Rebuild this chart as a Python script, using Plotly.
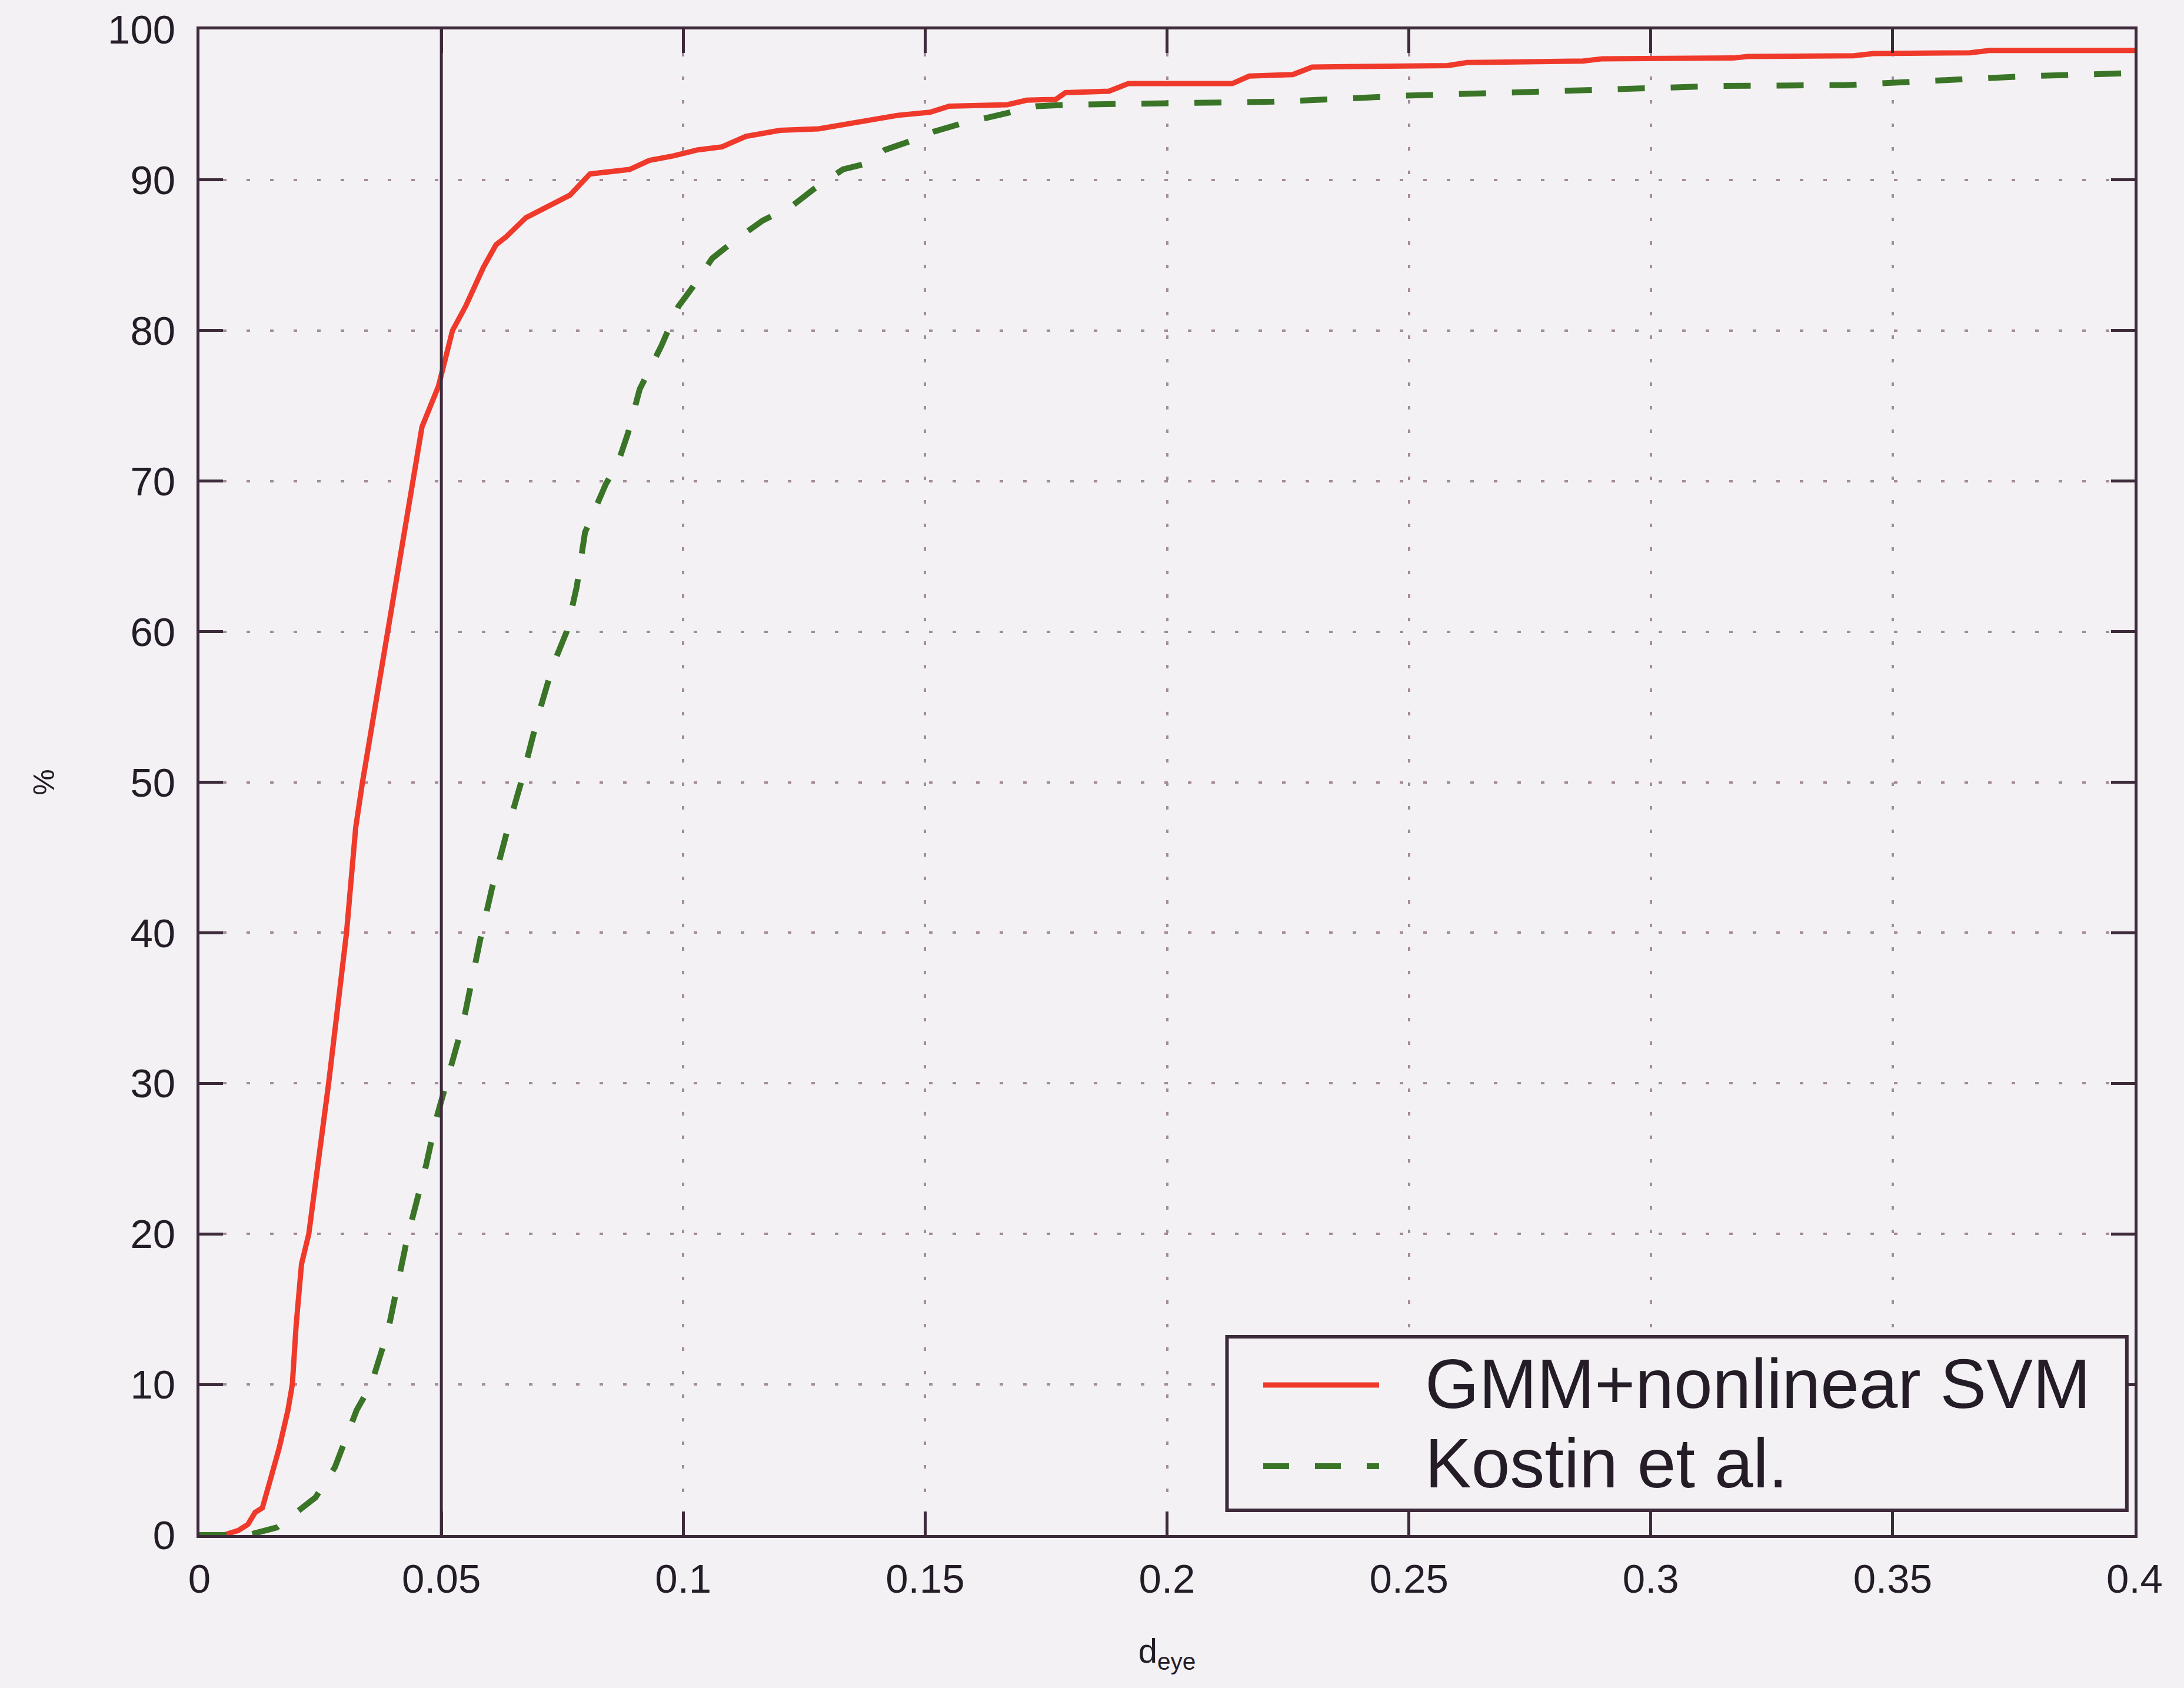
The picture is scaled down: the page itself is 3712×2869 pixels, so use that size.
import plotly.graph_objects as go

# ---- data ----
gmm_x = [0, 0.005, 0.008, 0.010, 0.0115, 0.013, 0.0145, 0.0165, 0.0183, 0.0192, 0.0200,
         0.0211, 0.0226, 0.0267, 0.0304, 0.0323, 0.0337, 0.0390, 0.0415, 0.0441, 0.0460,
         0.0494, 0.0523, 0.0550, 0.0587, 0.0613, 0.0633, 0.0675, 0.0725, 0.0766, 0.0807,
         0.0889, 0.0930, 0.0980, 0.1030, 0.1080, 0.1130, 0.1200, 0.1280, 0.1375, 0.1445,
         0.1510, 0.1550, 0.1670, 0.1710, 0.1770, 0.1790, 0.1880, 0.1920, 0.2135, 0.2170,
         0.2260, 0.2300, 0.2580, 0.2620, 0.2860, 0.2900, 0.3170, 0.3200, 0.3420, 0.3460,
         0.3660, 0.3700, 0.4000]
gmm_y = [0, 0, 0.3, 0.7, 1.5, 1.8, 3.5, 5.8, 8.3, 10, 14,
         18, 20, 30, 40, 47, 50, 60, 65, 70, 73.6,
         76.3, 80, 81.6, 84.2, 85.7, 86.2, 87.5, 88.3, 89.0, 90.4,
         90.7, 91.3, 91.6, 92.0, 92.2, 92.9, 93.3, 93.4, 93.9, 94.3,
         94.5, 94.9, 95.0, 95.3, 95.35, 95.8, 95.9, 96.4, 96.4, 96.9,
         97.0, 97.5, 97.6, 97.8, 97.9, 98.05, 98.1, 98.2, 98.25, 98.4,
         98.45, 98.6, 98.6]

kostin_x = [0, 0.010, 0.016, 0.021, 0.024, 0.028, 0.0325, 0.0355, 0.039, 0.043, 0.0468,
            0.049, 0.051, 0.0545, 0.058, 0.0605, 0.0638, 0.0665, 0.070, 0.073, 0.0759,
            0.078, 0.0797, 0.0840, 0.0865, 0.0886, 0.0910, 0.0955, 0.0990, 0.1020, 0.1060,
            0.1107, 0.1164, 0.1226, 0.1270, 0.1330, 0.1380, 0.1417, 0.1480, 0.1517, 0.1570,
            0.1620, 0.1670, 0.1730, 0.1800, 0.2000, 0.2220, 0.2370, 0.2490, 0.2700, 0.2925,
            0.3150, 0.3400, 0.3460, 0.3570, 0.3780, 0.4000]
kostin_y = [0, 0, 0.5, 1.8, 2.5, 4.5, 8.3, 10, 13.6, 19.8, 24.5,
            27.7, 30, 34, 39.5, 43, 47, 50, 54.4, 57.7, 60,
            63, 66.6, 69.8, 71.2, 73.2, 76.1, 79.0, 81.6, 82.9, 84.8,
            86.0, 87.3, 88.3, 89.4, 90.7, 91.1, 92.0, 92.7, 93.2, 93.7,
            94.1, 94.5, 94.9, 95.0, 95.1, 95.2, 95.4, 95.6, 95.8, 96.0,
            96.25, 96.3, 96.4, 96.5, 96.9, 97.1]

x_ticks = [0, 0.05, 0.1, 0.15, 0.2, 0.25, 0.3, 0.35, 0.4]
x_tick_labels = ["0", "0.05", "0.1", "0.15", "0.2", "0.25", "0.3", "0.35", "0.4"]
y_ticks = [0, 10, 20, 30, 40, 50, 60, 70, 80, 90, 100]
y_tick_labels = [str(v) for v in y_ticks]
series_names = ["GMM+nonlinear SVM", "Kostin et al."]
marker_x = 0.05

# ---- style ----
BG = "#f4f1f5"
INK = "#241c26"
AXIS = "#3d2a3a"
GRID = "#a38b9b"
RED = "#ef3a2b"
GREEN = "#3a7427"
FONT = "Liberation Sans, Arial, Helvetica, sans-serif"

fig = go.Figure()
fig.add_trace(go.Scatter(x=gmm_x, y=gmm_y, mode="lines", name=series_names[0],
                         line=dict(color=RED, width=9), showlegend=False))
fig.add_trace(go.Scatter(x=kostin_x, y=kostin_y, mode="lines", name=series_names[1],
                         line=dict(color=GREEN, width=10, dash="46px,44px"),
                         showlegend=False))

axis_common = dict(
    showline=True, linecolor=AXIS, linewidth=5, mirror="ticks",
    ticks="inside", ticklen=40, tickwidth=5, tickcolor=AXIS,
    showgrid=True, gridcolor=GRID, gridwidth=4, griddash="6px,34px",
    zeroline=False, tickfont=dict(family=FONT, size=69, color=INK),
)

fig.update_xaxes(range=[0, 0.4], tickmode="array", tickvals=x_ticks,
                 ticktext=x_tick_labels, ticklabelstandoff=10,
                 title=dict(text="d<sub>eye</sub>", font=dict(family=FONT, size=58, color=INK),
                            standoff=66),
                 **axis_common)
fig.update_yaxes(range=[0, 100], tickmode="array", tickvals=y_ticks,
                 ticktext=y_tick_labels, ticklabelstandoff=22,
                 title=dict(text="%", font=dict(family=FONT, size=50, color=INK),
                            standoff=76),
                 **axis_common)

# solid vertical marker line at d_eye = 0.05
fig.add_shape(type="line", xref="x", yref="paper", x0=marker_x, x1=marker_x, y0=0, y1=1,
              line=dict(color=AXIS, width=5))

# legend box (drawn manually to match the long line samples)
fig.add_shape(type="rect", xref="paper", yref="paper", x0=0.531, x1=0.996,
              y0=0.0164, y1=0.1317, line=dict(color=AXIS, width=6), fillcolor=BG, layer="above")
fig.add_shape(type="line", xref="paper", yref="paper", x0=0.5497, x1=0.6096,
              y0=0.0996, y1=0.0996, line=dict(color=RED, width=9), layer="above")
fig.add_shape(type="line", xref="paper", yref="paper", x0=0.5497, x1=0.6096,
              y0=0.0457, y1=0.0457, line=dict(color=GREEN, width=10, dash="44px,44px"),
              layer="above")
fig.add_annotation(xref="paper", yref="paper", x=0.6327, y=0.1004, xanchor="left",
                   yanchor="middle", text=series_names[0], showarrow=False,
                   font=dict(family=FONT, size=118, color=INK))
fig.add_annotation(xref="paper", yref="paper", x=0.6327, y=0.0477, xanchor="left",
                   yanchor="middle", text=series_names[1], showarrow=False,
                   font=dict(family=FONT, size=118, color=INK))

fig.update_layout(
    width=3712, height=2869,
    margin=dict(l=339, r=84, t=50, b=260),
    paper_bgcolor=BG, plot_bgcolor=BG,
    font=dict(family=FONT, color=INK),
    showlegend=False,
)

fig.write_html("out.html")
